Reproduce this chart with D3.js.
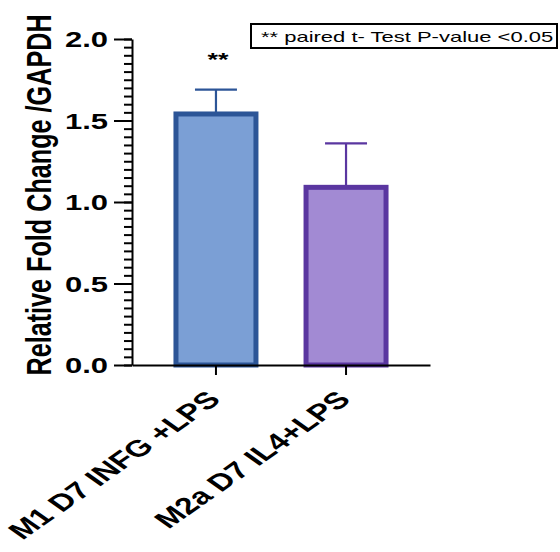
<!DOCTYPE html>
<html>
<head>
<meta charset="utf-8">
<script src="https://cdn.jsdelivr.net/npm/d3@7"></script>
<style>
  html, body { margin: 0; padding: 0; background: #fff; }
  svg { display: block; font-family: "Liberation Sans", Arial, Helvetica, sans-serif; }
</style>
</head>
<body>
<svg id="chart" width="560" height="552"></svg>
<script>
// Relative fold change (normalised to GAPDH), mean with upper error bar
const categories = ["M1 D7 INFG +LPS", "M2a D7 IL4+LPS"];
const means = [1.54, 1.09];
const errors = [0.15, 0.27];
const significance = ["**", ""];
const fills = ["#7b9fd5", "#a28ad3"];
const strokes = ["#2c5597", "#5a36a0"];
const majorTicks = [0, 0.5, 1.0, 1.5, 2.0];
const majorTickLabels = ["0.0", "0.5", "1.0", "1.5", "2.0"];
const minorStep = 0.05;
const yTitle = "Relative Fold Change /GAPDH";
const noteText = "** paired t- Test P-value <0.05";

// Text in this figure is drawn with a vertical squash
const SQ = 0.7;

const svg = d3.select("#chart");

const x = d3.scaleBand()
  .domain(categories)
  .range([132, 430])
  .paddingInner(0.385)
  .paddingOuter(0.338);

const y = d3.scaleLinear().domain([0, 2]).range([365, 39]);

const rows = categories.map((c, i) => ({
  cat: c, mean: means[i], err: errors[i], sig: significance[i],
  fill: fills[i], stroke: strokes[i]
}));

// Error bars (upper only)
const eb = svg.append("g");
rows.forEach(d => {
  const cx = x(d.cat) + x.bandwidth() / 2;
  eb.append("line")
    .attr("x1", cx).attr("x2", cx)
    .attr("y1", y(d.mean)).attr("y2", y(d.mean + d.err))
    .attr("stroke", d.stroke).attr("stroke-width", 2.2);
  eb.append("line")
    .attr("x1", cx - 21).attr("x2", cx + 21)
    .attr("y1", y(d.mean + d.err)).attr("y2", y(d.mean + d.err))
    .attr("stroke", d.stroke).attr("stroke-width", 2.2);
});

// Bars
svg.append("g").selectAll("rect")
  .data(rows)
  .join("rect")
  .attr("x", d => x(d.cat))
  .attr("width", x.bandwidth())
  .attr("y", d => y(d.mean))
  .attr("height", d => y(0) - y(d.mean))
  .attr("fill", d => d.fill)
  .attr("stroke", d => d.stroke)
  .attr("stroke-width", 5);

// Significance marks
svg.append("g").selectAll("text")
  .data(rows.filter(d => d.sig))
  .join("text")
  .attr("transform", d => `translate(${x(d.cat) + x.bandwidth() / 2 + 2},66) scale(1,${SQ})`)
  .attr("text-anchor", "middle")
  .attr("font-size", 27)
  .attr("font-weight", "bold")
  .text(d => d.sig);

// Y axis minor ticks
const minorVals = d3.range(0, 2 + minorStep / 2, minorStep);
const yMinor = svg.append("g")
  .attr("transform", "translate(132,0)")
  .call(d3.axisLeft(y).tickValues(minorVals).tickSize(8).tickFormat(""));
yMinor.select(".domain").remove();
yMinor.selectAll("line").attr("stroke", "#000").attr("stroke-width", 2);

// Y axis major ticks + labels
const yAxis = svg.append("g")
  .attr("transform", "translate(132,0)")
  .call(d3.axisLeft(y).tickValues(majorTicks).tickSize(18).tickSizeOuter(0)
    .tickFormat((d, i) => majorTickLabels[i]));
yAxis.selectAll("line, path").attr("stroke", "#000").attr("stroke-width", 2);
yAxis.selectAll("text")
  .attr("dy", null)
  .attr("x", null)
  .attr("y", 10.7)
  .attr("transform", `translate(-24,0) scale(1,${SQ})`)
  .attr("font-size", 31)
  .attr("font-weight", "bold")
  .attr("font-family", "Liberation Sans, Arial, Helvetica, sans-serif")
  .attr("fill", "#000");

// X axis
const xAxis = svg.append("g")
  .attr("transform", `translate(0,${y(0)})`)
  .call(d3.axisBottom(x).tickSize(10).tickSizeOuter(0));
xAxis.selectAll("line, path").attr("stroke", "#000").attr("stroke-width", 2);
xAxis.selectAll("text")
  .attr("dy", null)
  .attr("y", null)
  .attr("text-anchor", "end")
  .attr("transform", `translate(6,36) scale(1,${SQ}) rotate(-45)`)
  .attr("font-size", 33.5)
  .attr("font-weight", "bold")
  .attr("font-family", "Liberation Sans, Arial, Helvetica, sans-serif")
  .attr("fill", "#000");

// Y axis title
svg.append("text")
  .attr("transform", `translate(51,195) scale(1,${SQ}) rotate(-90)`)
  .attr("text-anchor", "middle")
  .attr("font-size", 36)
  .attr("font-weight", "bold")
  .text(yTitle);

// Significance note box
const note = svg.append("g");
note.append("rect")
  .attr("x", 251).attr("y", 24).attr("width", 306).attr("height", 24)
  .attr("fill", "#fff").attr("stroke", "#000").attr("stroke-width", 2);
note.append("text")
  .attr("transform", `translate(261,42) scale(1,${SQ})`)
  .attr("font-size", 22)
  .text(noteText);
</script>
</body>
</html>
